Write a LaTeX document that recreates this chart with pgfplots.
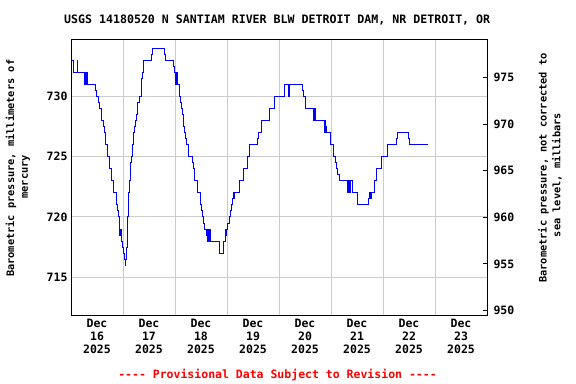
\documentclass[border=0pt]{standalone}
\usepackage{pgfplots}
\pgfplotsset{compat=1.18}
\usepackage{fontspec}
\setmainfont{DejaVu Sans Mono}
\newcommand{\titlefont}{\bfseries\fontsize{11.6bp}{14bp}\selectfont}
\newcommand{\tickfont}{\bfseries\fontsize{11.5bp}{13bp}\selectfont}
\newcommand{\labfont}{\bfseries\fontsize{10.3bp}{12bp}\selectfont}
\definecolor{gridgray}{HTML}{CCCCCC}
\begin{document}
\begin{tikzpicture}
\path[use as bounding box] (0,0) rectangle (576bp,384bp);
\begin{axis}[
  at={(71bp,68bp)}, anchor=south west, scale only axis,
  width=416bp, height=276.7bp,
  xmin=0, xmax=192, ymin=711.79, ymax=734.72,
  xtick={12,36,60,84,108,132,156,180},
  xticklabels={{Dec\\16\\2025},{Dec\\17\\2025},{Dec\\18\\2025},{Dec\\19\\2025},{Dec\\20\\2025},{Dec\\21\\2025},{Dec\\22\\2025},{Dec\\23\\2025}},
  minor xtick={24,48,72,96,120,144,168},
  xminorgrids, ymajorgrids,
  ytick={715,720,725,730},
  ytick pos=left, xtick pos=bottom,
  major tick length=0pt, minor tick length=0pt,
  grid style={gridgray, line width=1bp},
  minor grid style={gridgray, line width=1bp},
  axis line style={black, line width=1bp},
  xticklabel style={align=center, font=\tickfont},
  yticklabel style={font=\tickfont},
  /pgf/number format/assume math mode=true,
  /pgf/number format/1000 sep={},
]
\addplot[const plot mark left, color={rgb,255:red,0;green,0;blue,255}, line width=0.9bp, mark=none] coordinates {
(0,733) (0.92,732) (2.77,733) (3.08,732) (6.15,731) (6.46,732) (6.77,731) (7.08,732) (7.38,731)
(11.08,730.5) (11.69,730) (12.62,729.5) (12.92,729) (13.85,728) (14.77,727.5) (15.38,727) (16.0,726)
(16.92,725) (17.54,724.5) (17.85,724) (18.77,723) (19.38,722) (20.92,721) (21.23,720.5) (21.85,720)
(22.15,719) (22.46,718.5) (22.77,719) (23.08,718.5) (23.38,718) (23.69,717.5) (24.0,717) (24.62,716.5)
(24.92,716) (25.23,716.5) (25.54,717.5) (25.85,720) (26.46,722) (27.08,723) (27.23,724.5) (27.69,725)
(28.46,726) (28.92,727) (29.23,727.5) (29.85,728) (30.15,728.5) (30.46,729) (30.77,729.5) (31.38,730)
(32.31,731) (32.62,731.5) (32.92,732) (33.54,733) (37.23,733.5) (37.54,734) (43.08,733.5) (43.38,733)
(47.08,732.5) (47.69,732) (48.00,731) (48.31,732) (48.62,731) (48.92,732) (49.23,731) (49.85,730)
(50.46,729.5) (50.77,729) (51.38,728.5) (51.69,728) (52.00,727.5) (52.31,727) (52.92,726.5) (53.23,726)
(54.15,725) (56.0,724.5) (56.31,724) (56.92,723) (58.15,722) (59.69,721) (60.31,720.5) (60.62,720)
(60.92,719.5) (61.54,719) (62.46,718.5) (62.77,719) (63.08,718) (63.38,719) (63.69,718) (64.0,719)
(64.31,718) (68.31,717.5) (68.62,717) (70.15,717.5) (70.46,718) (71.08,719) (71.38,718.5) (71.69,719)
(72.31,719.5) (72.92,720) (73.54,720.5) (73.85,721) (74.46,721.5) (74.77,722) (75.08,721.5) (75.38,722)
(77.85,723) (79.38,724) (81.23,725) (82.15,725.5) (82.46,726) (86.15,726.5) (86.46,727) (88.0,728)
(91.38,728.5) (91.69,729) (93.85,730) (98.46,731) (100.31,730) (100.62,731) (106.77,730.5) (107.08,730)
(108.31,729) (111.69,728) (112.15,729) (112.62,728) (116.92,727) (117.23,728) (117.54,727.5) (117.85,727)
(119.69,726) (120.92,725) (122.15,724.5) (122.46,724) (122.77,723.5) (123.69,723) (127.69,722) (128.0,723)
(128.62,722) (128.92,723) (129.85,722) (132.31,721) (137.23,721.5) (137.54,722) (138.15,721.5) (138.46,722)
(140.0,723) (140.92,724) (143.08,725) (145.85,726) (150.15,726.5) (150.46,727) (155.69,726.5) (156.31,726)
(164.8,726)
};
\end{axis}
\begin{axis}[
  at={(71bp,68bp)}, anchor=south west, scale only axis,
  width=416bp, height=276.7bp,
  xmin=0, xmax=192, ymin=949.41, ymax=979.10,
  axis x line=none, axis y line*=right,
  ytick={950,955,960,965,970,975},
  ytick pos=right, tick align=inside,
  major tick length=4bp,
  tick style={black, line width=1bp},
  axis line style={black, line width=1bp},
  yticklabel style={font=\tickfont, xshift=3bp},
  /pgf/number format/assume math mode=true,
  /pgf/number format/1000 sep={},
]
\addplot[draw=none, mark=none] coordinates {(10,960) (20,961)};
\end{axis}
\node[font=\titlefont] at (277.2bp,364bp) {USGS 14180520 N SANTIAM RIVER BLW DETROIT DAM, NR DETROIT, OR};
\node[font=\labfont, rotate=90] at (11bp,215.7bp) {Barometric pressure, millimeters of};
\node[font=\labfont, rotate=90] at (26bp,207.3bp) {mercury};
\node[font=\labfont, rotate=90] at (543.5bp,216bp) {Barometric pressure, not corrected to};
\node[font=\labfont, rotate=90] at (557bp,209bp) {sea level, millibars};
\node[font=\tickfont, text={rgb,255:red,255;green,0;blue,0}] at (277.5bp,9bp) {{-}{-}{-}{-} Provisional Data Subject to Revision {-}{-}{-}{-}};
\end{tikzpicture}
\end{document}
